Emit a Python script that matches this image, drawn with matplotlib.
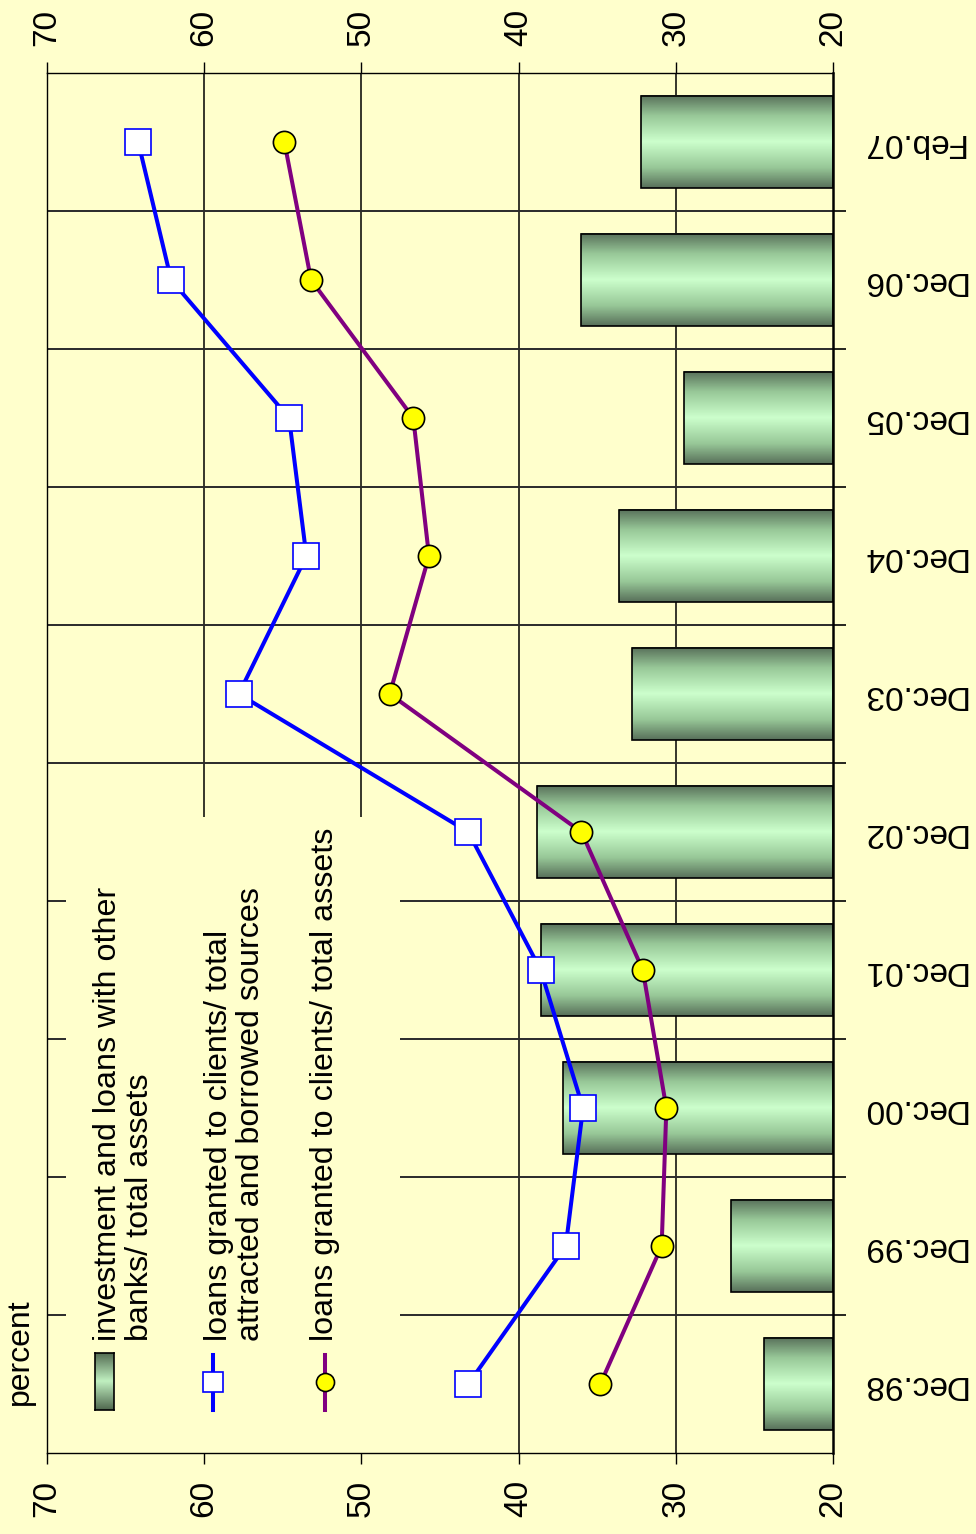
import numpy as np
import matplotlib
matplotlib.use("Agg")
import matplotlib.pyplot as plt
from matplotlib.colors import LinearSegmentedColormap
from matplotlib.patches import Rectangle
from matplotlib.lines import Line2D

plt.rcParams['font.family'] = ['Liberation Sans', 'DejaVu Sans']

categories = ["Dec.98", "Dec.99", "Dec.00", "Dec.01", "Dec.02",
              "Dec.03", "Dec.04", "Dec.05", "Dec.06", "Feb.07"]
investment_banks = [24.4, 26.5, 37.2, 38.6, 38.8, 32.8, 33.6, 29.5, 36.0, 32.2]
loans_to_sources = [43.2, 37.0, 35.9, 38.6, 43.2, 57.8, 53.5, 54.6, 62.1, 64.2]
loans_to_assets = [34.8, 30.9, 30.6, 32.1, 36.0, 48.2, 45.7, 46.7, 53.2, 54.9]
value_ticks = [70, 60, 50, 40, 30, 20]

BG = '#FFFFCC'
W, H = 976, 1534
fig = plt.figure(figsize=(W / 100, H / 100), dpi=100, facecolor=BG)

def fx(px):
    return px / W

def fy(py):
    return 1 - py / H

ax = fig.add_axes([fx(47), fy(1453), fx(833) - fx(47), fy(73) - fy(1453)])
ax.set_facecolor(BG)

n = len(categories)
ypos = np.arange(n)

# grid
for v in [30, 40, 50, 60]:
    ax.axvline(v, color='black', lw=1.1, zorder=0.5)
for b in np.arange(0.5, n - 1, 1.0):
    ax.axhline(b, color='#2a2a2a', lw=1.4, zorder=0.5)

# legend background box hides grid
ax.add_patch(Rectangle((0.024, 0.0), 0.425, 0.461, transform=ax.transAxes,
                       facecolor=BG, edgecolor='none', zorder=1))

# gradient bars
cmap = LinearSegmentedColormap.from_list(
    'g', [(0, '#58705a'), (0.22, '#98c898'), (0.5, '#ccffcc'),
          (0.78, '#98c898'), (1, '#58705a')])
grad = np.linspace(0, 1, 200).reshape(-1, 1)
bh = 0.67
for i, v in enumerate(investment_banks):
    ax.imshow(grad, cmap=cmap, aspect='auto', origin='lower',
              extent=[20, v, i - bh / 2, i + bh / 2], zorder=2,
              interpolation='bilinear')
    ax.add_patch(Rectangle((20, i - bh / 2), v - 20, bh, facecolor='none',
                           edgecolor='black', lw=1.2, zorder=2.1))

ax.plot(loans_to_sources, ypos, color='#0000FF', lw=2.9, marker='s',
        markersize=19, markerfacecolor='white', markeredgecolor='#0000FF',
        markeredgewidth=1.2, zorder=3)
ax.plot(loans_to_assets, ypos, color='#800080', lw=2.9, marker='o',
        markersize=16, markerfacecolor='#FFFF00', markeredgecolor='black',
        markeredgewidth=1.2, zorder=3)

ax.set_xlim(70, 20)
ax.set_ylim(-0.5, n - 0.5)

# value axis ticks top and bottom
ax.set_xticks(value_ticks)
ax.set_xticklabels([str(t) for t in value_ticks], rotation=90, fontsize=24)
ax.tick_params(axis='x', which='both', top=True, bottom=True,
               labeltop=True, labelbottom=True, direction='out',
               length=8, width=1, pad=25)
for lab in ax.get_xticklabels():
    lab.set_va('center')

# category axis on right
ax.yaxis.tick_right()
ax.set_yticks(ypos)
ax.set_yticklabels(categories, rotation=180, fontsize=24)
ax.set_yticks(np.arange(0.5, n - 1, 1.0), minor=True)
ax.tick_params(axis='y', which='major', length=0, pad=20, left=False, right=True)
ax.tick_params(axis='y', which='minor', length=9, width=1.2, left=False,
               right=True, direction='out')
for lab in ax.get_yticklabels():
    lab.set_va('center')

for s in ['top', 'left', 'bottom']:
    ax.spines[s].set_linewidth(1.0)
ax.spines['right'].set_linewidth(1.8)

# "percent" label
fig.text(fx(20), fy(1405), 'percent', rotation=90, fontsize=23,
         ha='center', va='bottom')

# legend (rotated)
leg_cmap = LinearSegmentedColormap.from_list(
    'lg', [(0, '#50684f'), (0.5, '#c0f0c0'), (1, '#50684f')])
leg_grad_ax = fig.add_axes([fx(95), fy(1410), fx(114) - fx(95), fy(1353) - fy(1410)])
leg_grad_ax.imshow(grad, cmap=leg_cmap, aspect='auto', interpolation='bilinear')
leg_grad_ax.set_xticks([]); leg_grad_ax.set_yticks([])
for s in leg_grad_ax.spines.values():
    s.set_linewidth(1.2)

fig.add_artist(Line2D([fx(213), fx(213)], [fy(1410), fy(1355)],
                      transform=fig.transFigure, color='#0000FF', lw=2.9))
fig.add_artist(Line2D([fx(213)], [fy(1382)], transform=fig.transFigure,
                      marker='s', markersize=14, markerfacecolor='white',
                      markeredgecolor='#0000FF', markeredgewidth=1.2))
fig.add_artist(Line2D([fx(325), fx(325)], [fy(1410), fy(1355)],
                      transform=fig.transFigure, color='#800080', lw=2.9))
fig.add_artist(Line2D([fx(325)], [fy(1382)], transform=fig.transFigure,
                      marker='o', markersize=13, markerfacecolor='#FFFF00',
                      markeredgecolor='black', markeredgewidth=1.2))

fig.text(fx(124), fy(1341), 'investment and loans with other\nbanks/ total assets',
         rotation=90, fontsize=23.2, ha='center', va='bottom', ma='left',
         linespacing=1.08)
fig.text(fx(235), fy(1341), 'loans granted to clients/ total\nattracted and borrowed sources',
         rotation=90, fontsize=23.2, ha='center', va='bottom', ma='left',
         linespacing=1.08)
fig.text(fx(325), fy(1341), 'loans granted to clients/ total assets',
         rotation=90, fontsize=23.2, ha='center', va='bottom', ma='left')

fig.savefig('out.png', dpi=100, facecolor=BG)
